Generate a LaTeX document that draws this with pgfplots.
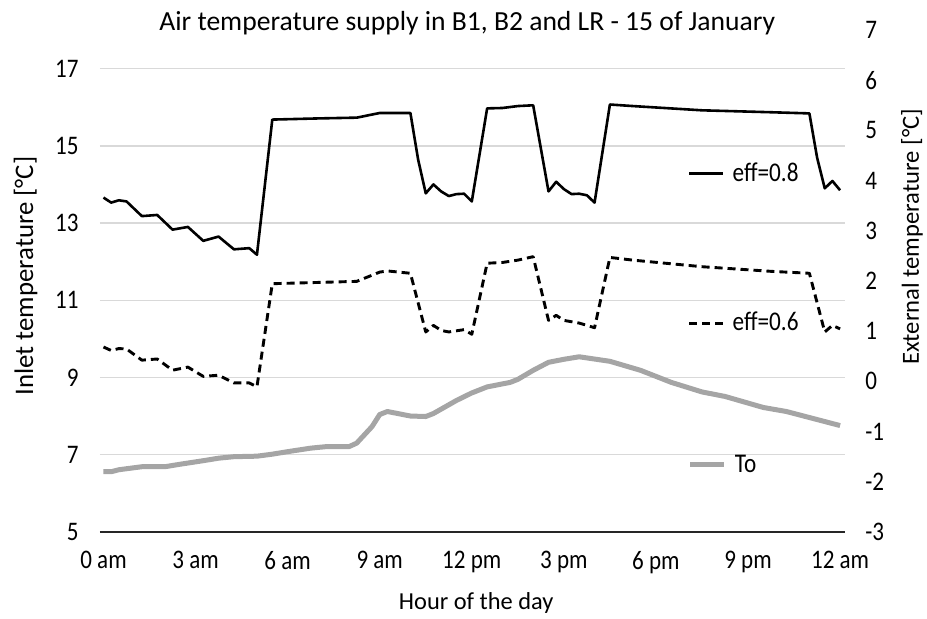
\documentclass[border=0pt]{standalone}
\usepackage{fontspec}
\setmainfont{Carlito}
\newfontfamily\narrow{Carlito}[FakeStretch=0.86]
\usepackage{pgfplots}
\pgfplotsset{compat=1.18}
\definecolor{gridc}{RGB}{217,217,217}
\definecolor{togray}{RGB}{165,165,165}
\begin{document}
\begin{tikzpicture}
\path[use as bounding box] (-50pt,-43.5pt) rectangle (413.5pt,266pt);
\pgfplotsset{
  common/.style={
    scale only axis, width=372.5pt, height=251pt,
    at={(0,0)}, anchor=south west,
    xmin=-0.114, xmax=24.16,
    axis line style={draw=none},
    tick style={draw=none},
    /pgf/number format/assume math mode=true,
    tick label style={font=\narrow\fontsize{13.4}{16}\selectfont, inner sep=0pt},
    legend image code/.code={\draw[##1] (0pt,0pt) -- (17pt,0pt);},
    legend cell align=left,
  }
}
\begin{axis}[common,
  ymin=5, ymax=18,
  ytick={5,7,...,17},
  xtick={0,3,...,24},
  xticklabels={0 am,3 am,6 am,9 am,12 pm,3 pm,6 pm,9 pm,12 am},
  xticklabel style={anchor=north, yshift=-9.5pt},
  yticklabel style={anchor=east, xshift=-10.5pt},
  ymajorgrids, major grid style={gridc, line width=0.7pt},
  extra y ticks={5}, extra y tick labels={},
  extra y tick style={grid=major, major grid style={black!85, line width=1.1pt}},
  title={Air temperature supply in B1, B2 and LR - 15 of January},
  title style={at={(axis description cs:0.493,1)}, anchor=base, yshift=-6.5pt, inner sep=0pt, font=\fontsize{13.8}{17}\selectfont},
  xlabel={Hour of the day},
  xlabel style={at={(axis description cs:0.505,0)}, anchor=center, yshift=-35.5pt, inner sep=0pt, font=\fontsize{12.2}{14}\selectfont},
  ylabel={Inlet temperature [°C]},
  ylabel style={at={(axis description cs:-0.1,0.51)}, anchor=center, inner sep=0pt, font=\fontsize{13.4}{16}\selectfont},
  legend style={at={(axis description cs:0.789,0.7357)}, anchor=north west, draw=none, fill=none, inner sep=0pt, outer sep=0pt, /tikz/row sep=64pt, /tikz/column sep=4pt, nodes={inner sep=0pt}, font=\narrow\fontsize{13.5}{16}\selectfont},
]
\addplot[black, line width=1.3pt, line join=round] coordinates {
(0,13.66) (0.25,13.53) (0.5,13.59) (0.75,13.56) (1.25,13.18) (1.75,13.21)
(2.25,12.83) (2.75,12.90) (3.25,12.54) (3.75,12.65) (4.25,12.32) (4.75,12.35)
(5.0,12.18) (5.5,15.68) (7.0,15.71) (8.25,15.73) (9.0,15.85) (10.0,15.85)
(10.25,14.65) (10.5,13.77) (10.75,14.0) (11.0,13.82) (11.25,13.70) (11.5,13.75)
(11.75,13.76) (12.0,13.56) (12.5,15.97) (13.0,15.98) (13.5,16.03) (14.0,16.05)
(14.5,13.82) (14.75,14.07) (15.0,13.88) (15.25,13.75) (15.5,13.76) (15.75,13.72)
(16.0,13.53) (16.5,16.07) (17.25,16.03) (19.5,15.92) (21.75,15.87) (23.0,15.84)
(23.25,14.7) (23.5,13.90) (23.75,14.09) (24.0,13.85)
};
\addlegendentry{eff=0.8}
\addplot[black, line width=1.45pt, dash pattern=on 4pt off 2.5pt, line join=round] coordinates {
(0,9.79) (0.25,9.70) (0.5,9.75) (0.75,9.74) (1.25,9.45) (1.75,9.48)
(2.25,9.19) (2.75,9.27) (3.25,9.03) (3.75,9.06) (4.25,8.86) (4.75,8.86)
(5.0,8.76) (5.5,11.43) (8.25,11.49) (9.0,11.73) (9.25,11.76) (10.0,11.70)
(10.5,10.18) (10.75,10.35) (11.0,10.22) (11.25,10.18) (11.75,10.24) (12.0,10.12)
(12.5,11.96) (13.0,11.98) (13.5,12.04) (14.0,12.13) (14.5,10.48) (14.75,10.61)
(15.0,10.48) (15.5,10.41) (16.0,10.29) (16.5,12.11) (17.25,12.04) (19.5,11.87)
(21.75,11.75) (23.0,11.70) (23.5,10.18) (23.75,10.35) (24.0,10.26)
};
\addlegendentry{eff=0.6}
\end{axis}
\begin{axis}[common,
  ymin=-3, ymax=7,
  ytick={-3,-2,...,7},
  xtick=\empty,
  yticklabel pos=right,
  yticklabel style={anchor=west, xshift=10pt},
  ylabel={External temperature [°C]},
  ylabel style={at={(axis description cs:1.09,0.588)}, anchor=center, rotate=0, inner sep=0pt, font=\fontsize{12.3}{15}\selectfont},
  legend style={at={(axis description cs:0.789,0.1335)}, anchor=west, draw=none, fill=none, inner sep=0pt, outer sep=0pt, /tikz/column sep=4pt, nodes={inner sep=0pt}, font=\narrow\fontsize{13.5}{16}\selectfont},
]
\addplot[togray, line width=2.5pt, line join=round] coordinates {
(0,-1.80) (0.25,-1.80) (0.5,-1.76) (0.75,-1.74) (1.25,-1.70) (2.0,-1.70)
(2.5,-1.65) (3.25,-1.58) (3.75,-1.53) (4.25,-1.50) (5.0,-1.49) (5.5,-1.45)
(6.0,-1.40) (6.75,-1.33) (7.25,-1.30) (8.0,-1.30) (8.25,-1.23) (8.75,-0.90)
(9.0,-0.66) (9.25,-0.60) (10.0,-0.69) (10.5,-0.70) (10.75,-0.64) (11.5,-0.38)
(12.0,-0.23) (12.5,-0.11) (13.25,-0.02) (13.5,0.04) (14.0,0.22) (14.5,0.38)
(15.0,0.44) (15.5,0.49) (16.5,0.40) (17.5,0.22) (18.5,-0.02) (19.5,-0.21)
(20.25,-0.30) (21.5,-0.52) (22.25,-0.60) (23.5,-0.80) (24.0,-0.88)
};
\addlegendentry{To}
\end{axis}
\end{tikzpicture}
\end{document}
